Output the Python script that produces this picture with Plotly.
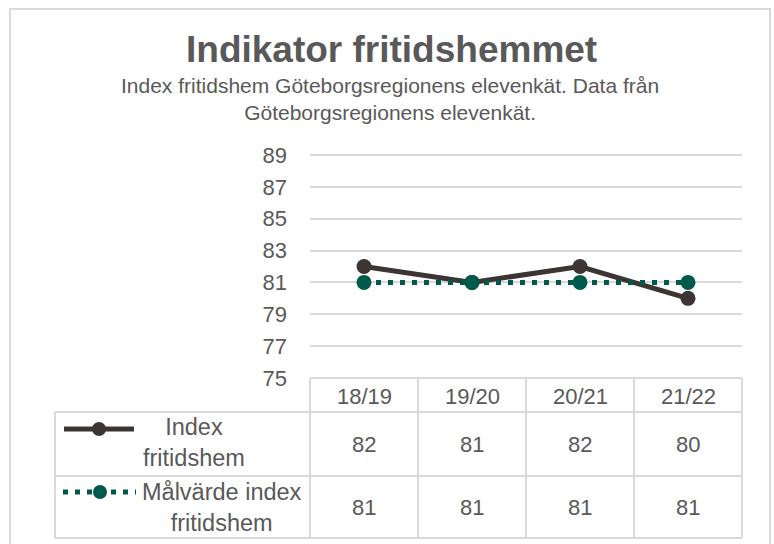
import plotly.graph_objects as go

categories = ["18/19", "19/20", "20/21", "21/22"]
index_values = [82, 81, 82, 80]
target_values = [81, 81, 81, 81]
series_names = ["Index<br>fritidshem", "Målvärde index<br>fritidshem"]
y_ticks = [75, 77, 79, 81, 83, 85, 87, 89]

W, H = 774, 544
L, R, T, B = 310, 742, 153, 378  # plot area in pixels

def px(x):
    return (x - L) / (R - L)

def py(y):
    return (B - y) / (B - T)

DARK = "#3D3533"
GREEN = "#005A4B"
GRID = "#D9D9D9"
TXT = "#595959"
FONT = "Liberation Sans, Arial, sans-serif"
FS = 22

fig = go.Figure()
fig.add_trace(go.Scatter(
    x=categories, y=index_values, mode="lines+markers",
    line=dict(color=DARK, width=5),
    marker=dict(color=DARK, size=15),
    cliponaxis=False, showlegend=False))
fig.add_trace(go.Scatter(
    x=categories, y=target_values, mode="lines+markers",
    line=dict(color=GREEN, width=5, dash="5px,7px"),
    marker=dict(color=GREEN, size=15),
    cliponaxis=False, showlegend=False))

shapes = []
annotations = []

def ann(x, y, text, size, align="center"):
    annotations.append(dict(x=px(x), y=py(y), xref="paper", yref="paper",
                            xanchor="center", yanchor="middle", text=text,
                            showarrow=False, align=align,
                            font=dict(size=size, color=TXT, family=FONT)))

# outer border
shapes.append(dict(type="rect", xref="paper", yref="paper",
                   x0=px(10), x1=px(770), y0=py(560), y1=py(9),
                   line=dict(color=GRID, width=2), layer="below"))

# table lines
col_edges = [310, 418, 526, 634, 742]
row_edges = [378, 412, 476, 538]
ln = dict(color=GRID, width=2)
shapes.append(dict(type="line", xref="paper", yref="paper", x0=px(310), x1=px(742),
                   y0=py(378), y1=py(378), line=ln))
for y in row_edges[1:]:
    shapes.append(dict(type="line", xref="paper", yref="paper", x0=px(55), x1=px(742),
                       y0=py(y), y1=py(y), line=ln))
for x in col_edges:
    shapes.append(dict(type="line", xref="paper", yref="paper", x0=px(x), x1=px(x),
                       y0=py(378), y1=py(538), line=ln))
shapes.append(dict(type="line", xref="paper", yref="paper", x0=px(55), x1=px(55),
                   y0=py(412), y1=py(538), line=ln))

centers = [(col_edges[i] + col_edges[i + 1]) / 2 for i in range(4)]
for i, c in enumerate(categories):
    ann(centers[i], 396, c, FS)
    ann(centers[i], 444, str(index_values[i]), FS)
    ann(centers[i], 507, str(target_values[i]), FS)

# legend keys
shapes.append(dict(type="line", xref="paper", yref="paper", x0=px(64), x1=px(134),
                   y0=py(429), y1=py(429), line=dict(color=DARK, width=5)))
shapes.append(dict(type="circle", xref="paper", yref="paper", x0=px(92), x1=px(106),
                   y0=py(436), y1=py(422), fillcolor=DARK, line=dict(color=DARK, width=0)))
shapes.append(dict(type="line", xref="paper", yref="paper", x0=px(63), x1=px(136),
                   y0=py(492), y1=py(492), line=dict(color=GREEN, width=5, dash="5px,7px")))
shapes.append(dict(type="circle", xref="paper", yref="paper", x0=px(93), x1=px(107),
                   y0=py(499), y1=py(485), fillcolor=GREEN, line=dict(color=GREEN, width=0)))

ann(194, 443, series_names[0], 23.5)
ann(222, 507, series_names[1], 23.5)

# titles
ann(391, 50, "<b>Indikator fritidshemmet</b>", 37)
ann(390, 98.5, "Index fritidshem Göteborgsregionens elevenkät. Data från<br>Göteborgsregionens elevenkät.", 21)

fig.update_layout(
    width=W, height=H,
    margin=dict(l=L, r=W - R, t=T, b=H - B),
    paper_bgcolor="white", plot_bgcolor="white",
    shapes=shapes, annotations=annotations,
    xaxis=dict(type="category", range=[-0.5, 3.5], showgrid=False, showticklabels=False,
               zeroline=False, showline=False, fixedrange=True),
    yaxis=dict(range=[75, 89.125], tickvals=y_ticks, showgrid=True, gridcolor=GRID, gridwidth=2,
               zeroline=False, showline=False, ticklabelstandoff=22,
               tickfont=dict(size=FS, color=TXT, family=FONT), fixedrange=True),
    showlegend=False,
)

fig.write_html("out.html", config={"displayModeBar": False},
               post_script="document.body.style.margin='0';")
